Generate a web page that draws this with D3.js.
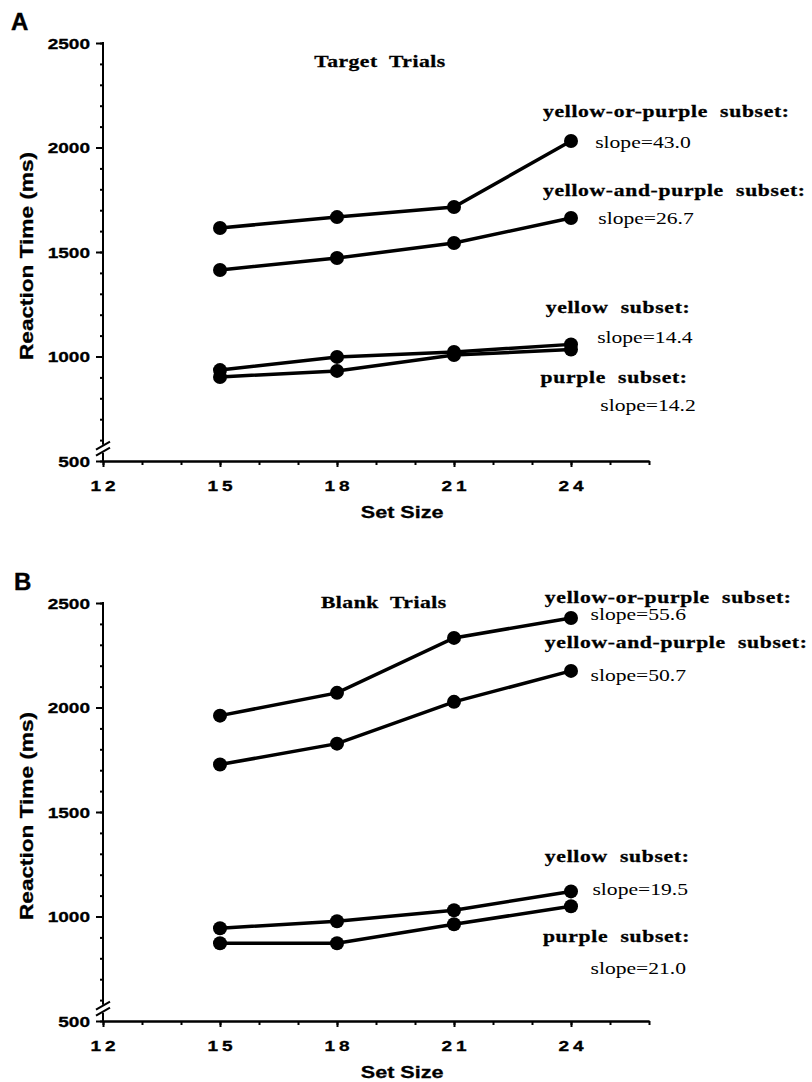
<!DOCTYPE html>
<head>
<meta charset="utf-8">
<title>Reaction Time x Set Size - Target and Blank Trials</title>
<script src="https://d3js.org/d3.v7.min.js"></script>
<style>
body { margin: 0; background: #fff; }

/* AXES */
.axis line, .axis path {
  stroke: #000;
  stroke-width: 2;
  fill: none;
}
.axis_line {
  stroke: #000;
  stroke-width: 2;
}

/* LINES */
.serie {
  fill: none;
  stroke: #000;
  stroke-width: 3.5;
}
.point { fill: #000; }

/* TEXT */
.tick_label {
  font-family: "Liberation Sans", Arial, sans-serif;
  font-weight: bold;
  font-size: 15px;
  fill: #000;
  stroke: #000;
  stroke-width: 0.3;
}
.axis_title {
  font-family: "Liberation Sans", Arial, sans-serif;
  font-weight: bold;
  font-size: 17px;
  fill: #000;
  stroke: #000;
  stroke-width: 0.3;
}
.panel_letter {
  font-family: "Liberation Sans", Arial, sans-serif;
  font-weight: bold;
  font-size: 24px;
  stroke: #000;
  stroke-width: 0.4;
}
.subset_label {
  font-family: "Liberation Serif", "Times New Roman", serif;
  font-weight: bold;
  font-size: 17px;
  letter-spacing: 0.55px;
  white-space: pre;
  stroke: #000;
  stroke-width: 0.3;
}
.slope_label {
  font-family: "Liberation Serif", "Times New Roman", serif;
  font-size: 17px;
}
.panel_title {
  font-family: "Liberation Serif", "Times New Roman", serif;
  font-weight: bold;
  font-size: 17px;
  letter-spacing: 0.4px;
  white-space: pre;
  stroke: #000;
  stroke-width: 0.3;
}
</style>
</head>
<body>
<div id="container"></div>
<script>

//------------------------DATA-------------------------//

const setSizes = [15, 18, 21, 24];
const xTicks = [12, 15, 18, 21, 24];
const yTicks = [500, 1000, 1500, 2000, 2500];

// target trials (ms)
const targetYellowOrPurple  = [1615, 1667, 1715, 2031];
const targetYellowAndPurple = [1414, 1471, 1543, 1663];
const targetYellow          = [935, 998, 1022, 1058];
const targetPurple          = [902, 931, 1007, 1033];

// blank trials (ms)
const blankYellowOrPurple  = [1961, 2070, 2333, 2428];
const blankYellowAndPurple = [1727, 1827, 2027, 2175];
const blankYellow          = [944, 977, 1030, 1120];
const blankPurple          = [872, 872, 963, 1049];

const subsetNames = ["yellow-or-purple  subset:", "yellow-and-purple  subset:", "yellow  subset:", "purple  subset:"];
const targetSlopes = ["slope=43.0", "slope=26.7", "slope=14.4", "slope=14.2"];
const blankSlopes  = ["slope=55.6", "slope=50.7", "slope=19.5", "slope=21.0"];

//------------------------LAYOUT-------------------------//

const SX = 1.27;   // the scanned figure is wider than it is tall
const plotLeft = 103, plotWidth = 546, plotHeight = 418;

// label anchors are given in data units (set size, ms)
const panels = [
  {
    letter: "A", top: 43, letterY: 30,
    title: "Target  Trials", titleAt: [19.1, 2385],
    series: [targetYellowOrPurple, targetYellowAndPurple, targetYellow, targetPurple],
    slopes: targetSlopes,
    nameAt:  [[23.28, 2146], [23.28, 1768], [23.35, 1208], [23.22, 873]],
    slopeAt: [[24.62, 1998], [24.7, 1634], [24.67, 1065], [24.75, 739]]
  },
  {
    letter: "B", top: 603, letterY: 590,
    title: "Blank  Trials", titleAt: [19.2, 2476],
    series: [blankYellowOrPurple, blankYellowAndPurple, blankYellow, blankPurple],
    slopes: blankSlopes,
    nameAt:  [[23.33, 2500], [23.33, 2285], [23.33, 1259], [23.28, 877]],
    slopeAt: [[24.5, 2419], [24.5, 2128], [24.55, 1101], [24.5, 724]]
  }
];

//------------------------SVG-------------------------//

const svg = d3.select("#container")
  .append("svg")
    .attr("width", 812)
    .attr("height", 1082);

const xScale = d3.scaleLinear().domain([12, 26]).range([0, plotWidth]);
const yScale = d3.scaleLinear().domain([500, 2500]).range([plotHeight, 0]);

function stretched(sel, x, y, txt, cls, anchor) {
  return sel.append("text")
    .attr("class", cls)
    .attr("text-anchor", anchor || "start")
    .attr("transform", "translate(" + x + "," + y + ") scale(" + SX + ",1)")
    .text(txt);
}

const line = d3.line()
  .x(function(d, i) { return xScale(setSizes[i]); })
  .y(function(d) { return yScale(d); });

panels.forEach(function(p) {

  // panel letter
  svg.append("text")
    .attr("class", "panel_letter")
    .attr("x", p.letter === "A" ? 11 : 14)
    .attr("y", p.letterY)
    .text(p.letter);

  const g = svg.append("g")
    .attr("transform", "translate(" + plotLeft + "," + p.top + ")");

  //----------------------AXES----------------------//

  // minor ticks
  g.append("g")
    .attr("class", "axis")
    .call(d3.axisLeft(yScale).tickValues(d3.range(500, 2501, 100)).tickSize(3).tickFormat(""))
    .call(function(a) { a.select(".domain").remove(); });
  g.append("g")
    .attr("class", "axis")
    .attr("transform", "translate(0," + plotHeight + ")")
    .call(d3.axisBottom(xScale).tickValues(d3.range(12, 27, 1)).tickSize(4).tickSizeOuter(0).tickFormat(""));

  // major ticks
  g.append("g")
    .attr("class", "axis")
    .call(d3.axisLeft(yScale).tickValues(yTicks).tickSize(7).tickFormat(""))
    .call(function(a) { a.select(".domain").remove(); });
  g.append("g")
    .attr("class", "axis")
    .attr("transform", "translate(0," + plotHeight + ")")
    .call(d3.axisBottom(xScale).tickValues(xTicks).tickSize(6).tickSizeOuter(0).tickFormat(""));

  // y axis line with a break near the bottom
  g.append("line").attr("class", "axis_line")
    .attr("x1", 0).attr("x2", 0)
    .attr("y1", yScale(2500) - 1).attr("y2", yScale(578));
  g.append("line").attr("class", "axis_line")
    .attr("x1", 0).attr("x2", 0)
    .attr("y1", yScale(540)).attr("y2", yScale(500) + 1);
  [545, 573].forEach(function(v) {
    g.append("line").attr("class", "axis_line")
      .attr("x1", -7).attr("y1", yScale(v) + 4)
      .attr("x2", 7).attr("y2", yScale(v) - 4);
  });

  // tick labels
  yTicks.forEach(function(v) {
    stretched(g, -13, yScale(v) + 5.5, v, "tick_label", "end");
  });
  xTicks.forEach(function(v) {
    stretched(g, xScale(v), plotHeight + 30, String(v).split("").join("\u2009"), "tick_label", "middle");
  });

  // axis titles
  stretched(g, xScale(19.67), plotHeight + 57, "Set  Size", "axis_title", "middle");

  g.append("text")
    .attr("class", "axis_title")
    .attr("text-anchor", "middle")
    .attr("transform", "translate(-70," + (plotHeight / 2 + 4) + ") rotate(-90)")
    .attr("textLength", 208)
    .attr("lengthAdjust", "spacingAndGlyphs")
    .style("font-size", "19px")
    .text("Reaction  Time  (ms)");

  //----------------------LINES----------------------//

  g.selectAll(".serie")
    .data(p.series)
    .enter()
    .append("path")
    .attr("class", "serie")
    .attr("d", function(d) { return line(d); });

  p.series.forEach(function(s) {
    g.selectAll(null)
      .data(s)
      .enter()
      .append("circle")
      .attr("class", "point")
      .attr("cx", function(d, i) { return xScale(setSizes[i]); })
      .attr("cy", function(d) { return yScale(d); })
      .attr("r", 7);
  });

  //----------------------LABELS----------------------//

  stretched(g, xScale(p.titleAt[0]), yScale(p.titleAt[1]), p.title, "panel_title", "middle");

  subsetNames.forEach(function(name, i) {
    stretched(g, xScale(p.nameAt[i][0]), yScale(p.nameAt[i][1]), name, "subset_label");
    stretched(g, xScale(p.slopeAt[i][0]), yScale(p.slopeAt[i][1]), p.slopes[i], "slope_label");
  });
});

</script>
</body>
